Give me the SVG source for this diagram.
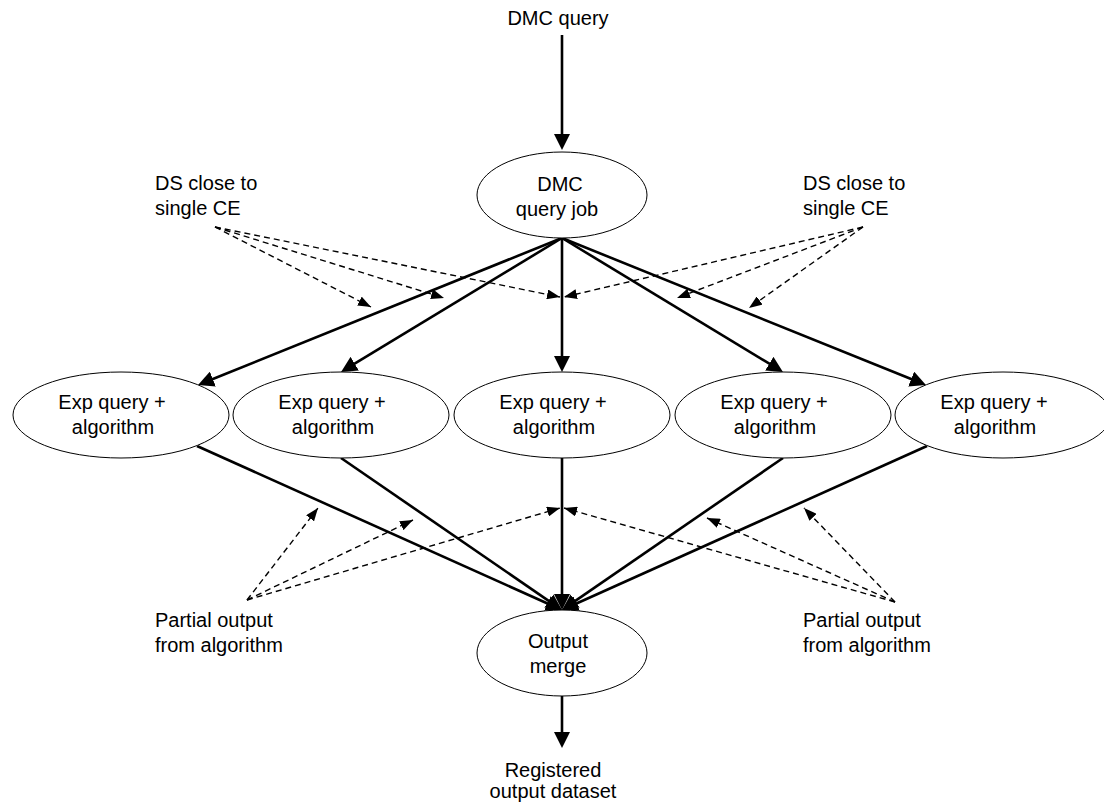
<svg xmlns="http://www.w3.org/2000/svg" width="1104" height="802" viewBox="0 0 1104 802">
<style>
  .node ellipse { fill: #ffffff; stroke: #000000; stroke-width: 1; }
  text { font-family: "Liberation Sans", Arial, sans-serif; font-size: 20px; fill: #000000; text-anchor: middle; }
  .lbl { text-anchor: start; }
  .solid { stroke: #000000; stroke-width: 2.6; fill: none; marker-end: url(#headSolid); }
  .dash { stroke: #000000; stroke-width: 1.4; fill: none; stroke-dasharray: 6 4; marker-end: url(#headDash); }
</style>
<defs>
  <marker id="headSolid" markerUnits="userSpaceOnUse" markerWidth="16" markerHeight="16" refX="2" refY="8" orient="auto">
    <path d="M0,0 L16,8 L0,16 z" fill="#000000"/>
  </marker>
  <marker id="headDash" markerUnits="userSpaceOnUse" markerWidth="13" markerHeight="10" refX="13" refY="5" orient="auto">
    <path d="M0,0 L13,5 L0,10 z" fill="#000000"/>
  </marker>
</defs>
<rect width="1104" height="802" fill="#ffffff"/>

<g id="connectors">
  <line class="solid" x1="562" y1="35" x2="562" y2="136"/>
  <line class="solid" x1="562" y1="238" x2="211" y2="379.8"/>
  <line class="solid" x1="562" y1="238" x2="353" y2="364.7"/>
  <line class="solid" x1="562" y1="238" x2="562" y2="358"/>
  <line class="solid" x1="562" y1="238" x2="771" y2="364.7"/>
  <line class="solid" x1="562" y1="238" x2="913" y2="379.8"/>
  <line class="solid" x1="197" y1="446" x2="549.2" y2="604.3"/>
  <line class="solid" x1="341" y1="458" x2="550.5" y2="602.1"/>
  <line class="solid" x1="562" y1="458" x2="562" y2="596"/>
  <line class="solid" x1="783" y1="458" x2="573.5" y2="602.1"/>
  <line class="solid" x1="927" y1="446" x2="574.8" y2="604.3"/>
  <line class="solid" x1="562" y1="696" x2="562" y2="734"/>

  <line class="dash" x1="215" y1="227" x2="371" y2="307"/>
  <line class="dash" x1="215" y1="227" x2="444" y2="298"/>
  <line class="dash" x1="215" y1="227" x2="560" y2="297"/>
  <line class="dash" x1="863" y1="227" x2="564" y2="297"/>
  <line class="dash" x1="863" y1="227" x2="677" y2="298"/>
  <line class="dash" x1="863" y1="227" x2="749" y2="308"/>

  <line class="dash" x1="247" y1="600" x2="318" y2="508"/>
  <line class="dash" x1="247" y1="600" x2="413" y2="520"/>
  <line class="dash" x1="247" y1="600" x2="560" y2="508"/>
  <line class="dash" x1="895" y1="602" x2="564" y2="508"/>
  <line class="dash" x1="895" y1="602" x2="707" y2="518"/>
  <line class="dash" x1="895" y1="602" x2="804" y2="508"/>
</g>

<g id="dmc-query"><text x="558" y="25">DMC query</text></g>

<g id="dmc-job" class="node">
  <ellipse cx="562" cy="195" rx="85" ry="43"/>
  <text x="560" y="191">DMC</text>
  <text x="557" y="216">query job</text>
</g>

<g id="ds-left"><text class="lbl" x="155" y="190">DS close to</text><text class="lbl" x="155" y="215">single CE</text></g>
<g id="ds-right"><text class="lbl" x="803" y="190">DS close to</text><text class="lbl" x="803" y="215">single CE</text></g>

<g id="exp1" class="node">
  <ellipse cx="121" cy="415" rx="108" ry="43"/>
  <text x="112" y="409">Exp query +</text><text x="113" y="434">algorithm</text>
</g>
<g id="exp2" class="node">
  <ellipse cx="341" cy="415" rx="108" ry="43"/>
  <text x="332" y="409">Exp query +</text><text x="333" y="434">algorithm</text>
</g>
<g id="exp3" class="node">
  <ellipse cx="562" cy="415" rx="108" ry="43"/>
  <text x="553" y="409">Exp query +</text><text x="554" y="434">algorithm</text>
</g>
<g id="exp4" class="node">
  <ellipse cx="783" cy="415" rx="108" ry="43"/>
  <text x="774" y="409">Exp query +</text><text x="775" y="434">algorithm</text>
</g>
<g id="exp5" class="node">
  <ellipse cx="1003" cy="415" rx="108" ry="43"/>
  <text x="994" y="409">Exp query +</text><text x="995" y="434">algorithm</text>
</g>

<g id="partial-left"><text class="lbl" x="155" y="627">Partial output</text><text class="lbl" x="155" y="652">from algorithm</text></g>
<g id="partial-right"><text class="lbl" x="803" y="627">Partial output</text><text class="lbl" x="803" y="652">from algorithm</text></g>

<g id="output-merge" class="node">
  <ellipse cx="562" cy="653" rx="85" ry="43"/>
  <text x="558" y="648">Output</text>
  <text x="558" y="673">merge</text>
</g>

<g id="registered"><text x="553" y="777">Registered</text><text x="553" y="798">output dataset</text></g>
</svg>
